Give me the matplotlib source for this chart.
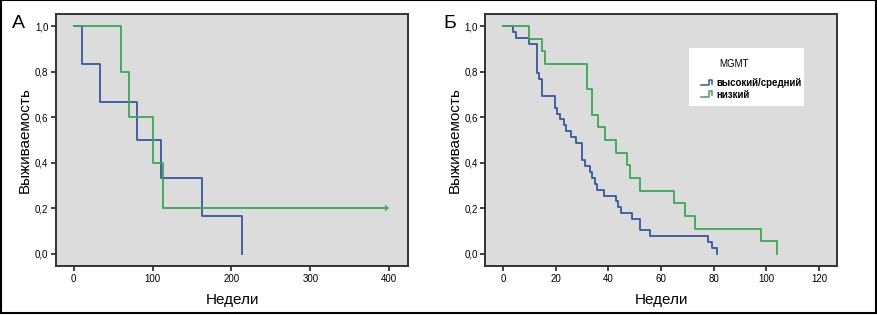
"""Kaplan-Meier survival curves by MGMT expression (panels А and Б)."""

import matplotlib
matplotlib.use("Agg")
import matplotlib.pyplot as plt
from matplotlib.lines import Line2D
from matplotlib.legend_handler import HandlerBase
from matplotlib.patches import Rectangle
from matplotlib.ticker import FuncFormatter

plt.rcParams["font.family"] = ["Liberation Sans", "DejaVu Sans"]

BLUE = "#34589e"
GREEN = "#3aa852"
AX_BG = "#dcdcdc"
FRAME = "#333333"

# panel A: weeks / survival at each step
a_blue_t = [0, 10, 33, 80, 111, 163, 213]
a_blue_s = [1.0, 0.833, 0.667, 0.5, 0.333, 0.167, 0.0]
a_green_t = [0, 60, 70, 100, 113, 396]
a_green_s = [1.0, 0.8, 0.6, 0.4, 0.2, 0.2]
a_green_censor_t = [396]
a_green_censor_s = [0.2]

# panel B
b_blue_t = [0, 4, 5, 10, 12.8, 13.6, 14.8, 19.9, 20.6, 21.5, 23, 24, 25.7, 27.8,
            30, 31, 32.9, 33.8, 34.8, 35.7, 38.2, 42.9, 43.7, 44.9, 49.1, 52,
            55.8, 77.8, 79.5, 81.2]
b_blue_s = [1.0, 0.974, 0.949, 0.923, 0.795, 0.769, 0.692, 0.641, 0.615, 0.590,
            0.564, 0.538, 0.513, 0.487, 0.410, 0.385, 0.359, 0.333, 0.308, 0.282,
            0.256, 0.231, 0.205, 0.179, 0.154, 0.103, 0.077, 0.051, 0.026, 0.0]
b_green_t = [0, 10, 14.9, 16.1, 32, 33.8, 36.1, 38.6, 43, 47.2, 48.1, 52, 65,
             69.2, 73, 97.8, 104.2]
b_green_s = [1.0, 0.944, 0.889, 0.833, 0.722, 0.611, 0.556, 0.5, 0.444, 0.389,
             0.333, 0.278, 0.222, 0.167, 0.111, 0.056, 0.0]

legend_title = "MGMT"
legend_labels = ["высокий/средний", "низкий"]
y_ticks = [0.0, 0.2, 0.4, 0.6, 0.8, 1.0]
a_x_ticks = [0, 100, 200, 300, 400]
b_x_ticks = [0, 20, 40, 60, 80, 100, 120]


class StepHandler(HandlerBase):
    """Small step glyph like the SPSS legend."""

    def create_artists(self, legend, orig, xd, yd, width, height, fontsize, trans):
        xs = [xd, xd + width * 0.55, xd + width * 0.55, xd + width * 0.8, xd + width * 0.8]
        ys = [yd + height * 0.1, yd + height * 0.1, yd + height * 0.9, yd + height * 0.9,
              yd + height * 0.3]
        ln = Line2D(xs, ys, color=orig.get_color(), lw=1.1, transform=trans)
        return [ln]


def style_axes(ax, xticks, xlim):
    ax.set_facecolor(AX_BG)
    for sp in ax.spines.values():
        sp.set_color(FRAME)
        sp.set_linewidth(1.4)
    ax.set_xlim(*xlim)
    ax.set_ylim(-0.053, 1.053)
    ax.set_xticks(xticks)
    ax.set_yticks(y_ticks)
    ax.yaxis.set_major_formatter(FuncFormatter(lambda v, _: f"{v:.1f}".replace(".", ",")))
    ax.tick_params(direction="out", length=3.5, width=1.3, color=FRAME,
                   labelsize=7, pad=2)
    ax.set_xlabel("Недели", fontsize=11, labelpad=7)
    ax.set_ylabel("Выживаемость", fontsize=11, labelpad=2)


fig = plt.figure(figsize=(8.78, 3.15), dpi=100)
ax_a = fig.add_axes([0.0638, 0.1556, 0.4009, 0.80])
ax_b = fig.add_axes([0.5527, 0.1556, 0.4006, 0.80])

ax_a.step(a_blue_t, a_blue_s, where="post", color=BLUE, lw=1.3)
ax_a.step(a_green_t, a_green_s, where="post", color=GREEN, lw=1.3)
ax_a.plot(a_green_censor_t, a_green_censor_s, "+", color=GREEN, ms=5, mew=1.1)
style_axes(ax_a, a_x_ticks, (-22.5, 424))

h_blue, = ax_b.step(b_blue_t, b_blue_s, where="post", color=BLUE, lw=1.3)
h_green, = ax_b.step(b_green_t, b_green_s, where="post", color=GREEN, lw=1.3)
style_axes(ax_b, b_x_ticks, (-6.7, 126.8))

# legend box
ax_b.add_patch(Rectangle((0.578, 0.636), 0.328, 0.231, transform=ax_b.transAxes,
                         facecolor="white", edgecolor="none", zorder=4))
ax_b.text(0.665, 0.80, legend_title, transform=ax_b.transAxes, fontsize=7,
          va="center", ha="left", zorder=5)
leg = ax_b.legend([h_blue, h_green], legend_labels, loc="upper left",
                  bbox_to_anchor=(0.60, 0.765), frameon=False, fontsize=7,
                  handlelength=1.4, handletextpad=0.2, labelspacing=0.15,
                  borderpad=0, handler_map={Line2D: StepHandler()})
leg.set_zorder(5)
for t in leg.get_texts():
    t.set_fontweight("bold")

fig.text(0.014, 0.911, "А", fontsize=14)
fig.text(0.505, 0.911, "Б", fontsize=14)

fig.add_artist(Rectangle((0.001, 0.005), 0.997, 0.994, transform=fig.transFigure,
                         fill=False, edgecolor="black", lw=1.5))

fig.savefig("out.png", dpi=100)
